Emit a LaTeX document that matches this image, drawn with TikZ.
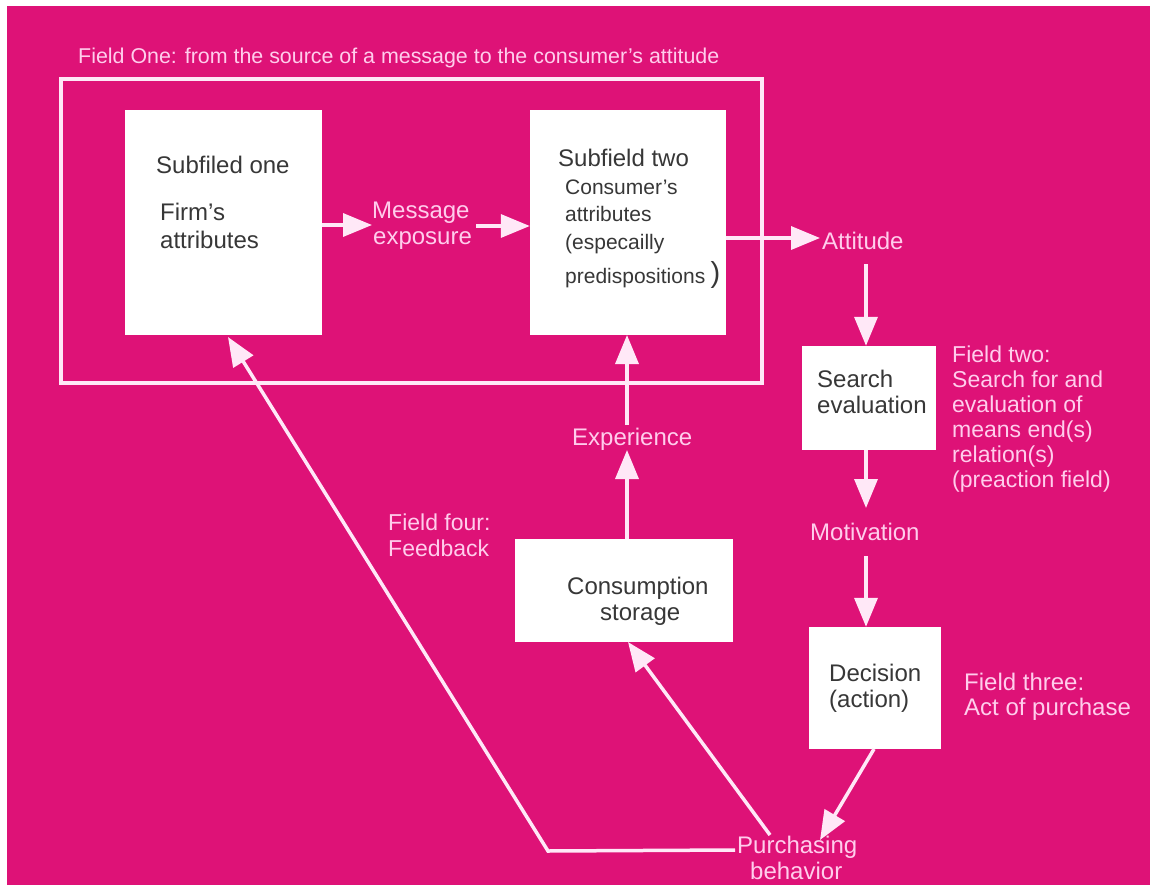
\documentclass[tikz,border=0pt]{standalone}
\usepackage{fontspec}
\setmainfont{Liberation Sans}
\usetikzlibrary{arrows.meta}
\definecolor{bgpink}{RGB}{222,18,119}
\definecolor{linecol}{RGB}{255,232,247}
\definecolor{lblcol}{RGB}{255,205,236}
\definecolor{boxtext}{RGB}{55,55,55}
\tikzset{
  whitebox/.style={fill=white, draw=none, inner sep=0pt},
  btxt/.style={text=boxtext, font=\fontsize{24}{27}\selectfont, anchor=base west, inner sep=0pt},
  stxt/.style={text=boxtext, font=\fontsize{21}{24}\selectfont, anchor=base west, inner sep=0pt},
  ltxt/.style={text=lblcol, font=\fontsize{24}{27}\selectfont, anchor=base west, inner sep=0pt},
  ftxt/.style={text=lblcol, font=\fontsize{23}{25}\selectfont, anchor=base west, inner sep=0pt},
  arr/.style={draw=linecol, line width=3.5pt, -{Triangle[length=29pt,width=23pt]}},
}
\begin{document}
\begin{tikzpicture}[x=1pt,y=-1pt]
\useasboundingbox (0,0) rectangle (1152,889);
\fill[white] (0,0) rectangle (1152,889);
\fill[bgpink] (7,6) rectangle (1150,885);

% title and frame
\node[ltxt, font=\fontsize{21.4}{24}\selectfont] (title) at (78,63) {Field One: from the source of a message to the consumer’s attitude};
\node[draw=linecol, line width=4pt, minimum width=701pt, minimum height=304pt, inner sep=0pt] (frame) at (411.5,231) {};

% boxes
\node[whitebox, minimum width=197pt, minimum height=225pt] (b1) at (223.5,222.5) {};
\node[whitebox, minimum width=196pt, minimum height=225pt] (b2) at (628,222.5) {};
\node[whitebox, minimum width=134pt, minimum height=104pt] (bs) at (869,398) {};
\node[whitebox, minimum width=132pt, minimum height=122pt] (bd) at (875,688) {};
\node[whitebox, minimum width=218pt, minimum height=103pt] (bc) at (624,590.5) {};

% box texts
\node[btxt] (t1a) at (156,173) {Subfiled one};
\node[btxt] (t1b) at (160,220) {Firm’s};
\node[btxt] (t1c) at (160,248) {attributes};

\node[btxt] (t2a) at (558,166) {Subfield two};
\node[stxt] (t2b) at (565,194) {Consumer’s};
\node[stxt] (t2c) at (565,221) {attributes};
\node[stxt] (t2d) at (565,249) {(especailly};
\node[stxt] (t2e) at (565,283) {predispositions};
\node[text=boxtext, font=\fontsize{29}{30}\selectfont, anchor=base west, inner sep=0pt] (t2f) at ([yshift=1pt]t2e.base east) {\,)};

\node[btxt] (ts1) at (817,387) {Search};
\node[btxt] (ts2) at (817,413) {evaluation};

\node[btxt] (td1) at (829,681) {Decision};
\node[btxt] (td2) at (829,707) {(action)};

\node[btxt] (tc1) at (567,594) {Consumption};
\node[btxt] (tc2) at (600,620) {storage};

% labels on background
\node[ltxt] (msg1) at (372,218) {Message};
\node[ltxt] (msg2) at (373,244) {exposure};
\node[ltxt] (att) at (822,249) {Attitude};
\node[ltxt] (mot) at (810,540) {Motivation};
\node[ltxt] (exp) at (572,445) {Experience};
\node[ltxt] (pur1) at (737,853) {Purchasing};
\node[ltxt] (pur2) at (750,879) {behavior};

\node[ftxt] (f2a) at (952,362) {Field two:};
\node[ftxt] (f2b) at (952,387) {Search for and};
\node[ftxt] (f2c) at (952,412) {evaluation of};
\node[ftxt] (f2d) at (952,437) {means end(s)};
\node[ftxt] (f2e) at (952,462) {relation(s)};
\node[ftxt] (f2f) at (952,487) {(preaction field)};

\node[ltxt] (f3a) at (964,690) {Field three:};
\node[ltxt] (f3b) at (964,715) {Act of purchase};

\node[ftxt] (f4a) at (388,530) {Field four:};
\node[ftxt] (f4b) at (388,556) {Feedback};

% connector coordinates
\coordinate (a1s) at (b1.east |- 0,225);
\coordinate (a1e) at (372,225);
\coordinate (a2s) at (476,226);
\coordinate (a2e) at (b2.west |- 0,226);
\coordinate (a3s) at (b2.east |- 0,238);
\coordinate (a3e) at (820,238);
\coordinate (a4s) at (866,264);
\coordinate (a5e) at (866,508);
\coordinate (a6s) at (866,556);
\coordinate (a7s) at (874,749);
\coordinate (a7e) at (820,840);
\coordinate (a8s) at (770,835);
\coordinate (a8e) at (628,642);
\coordinate (a9s) at (627,539);
\coordinate (a9e) at (627,450);
\coordinate (a10s) at (627,425);
\coordinate (a10e) at (627,335);
\coordinate (fbs) at (735,850);
\coordinate (fbc) at (548,851);
\coordinate (fbe) at (228,337);

% connectors
\draw[arr] (a1s) -- (a1e);
\draw[arr] (a2s) -- (a2e);
\draw[arr] (a3s) -- (a3e);
\draw[arr] (a4s) -- (a4s |- bs.north);
\draw[arr] (a4s |- bs.south) -- (a5e);
\draw[arr] (a6s) -- (a6s |- bd.north);
\draw[arr] (a7s) -- (a7e);
\draw[arr] (a8s) -- (a8e);
\draw[arr] (a9s) -- (a9e);
\draw[arr] (a10s) -- (a10e);
\draw[arr] (fbs) -- (fbc) -- (fbe);
\end{tikzpicture}
\end{document}
